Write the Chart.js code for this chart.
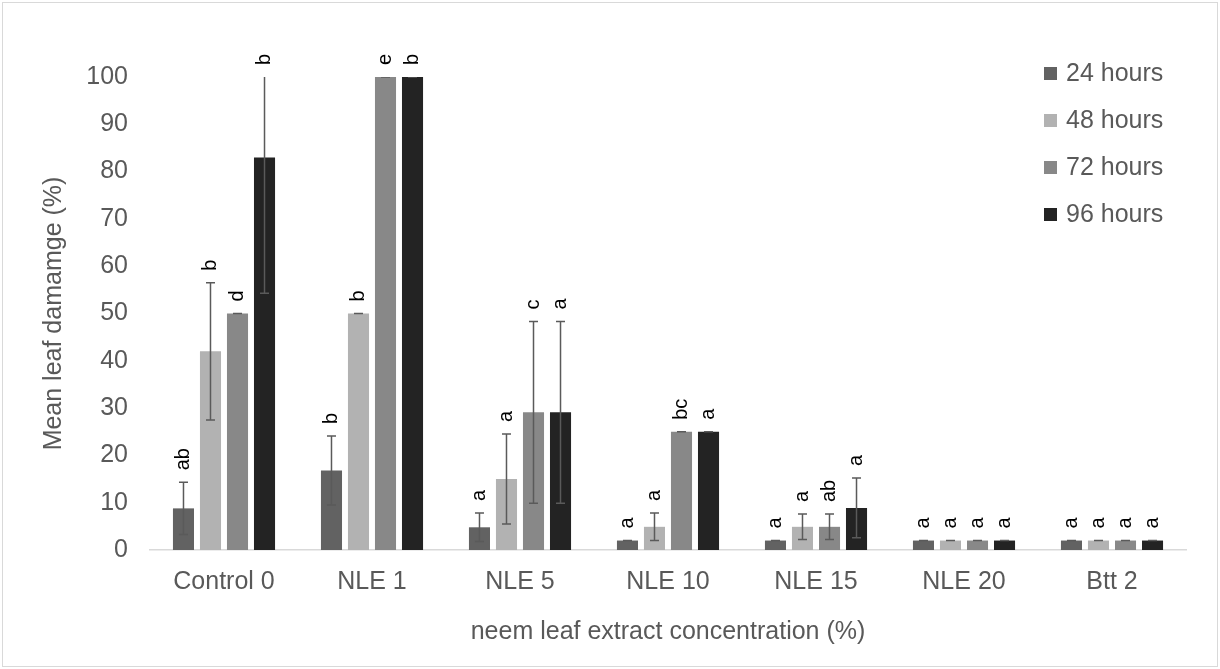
<!DOCTYPE html>
<html lang="en">
<head>
<meta charset="UTF-8">
<title>Mean leaf damage</title>
<script src="https://cdn.jsdelivr.net/npm/chart.js"></script>
<style>
  body { margin: 0; background: #fff; }
</style>
</head>
<body>
<canvas id="damageChart" width="1220" height="669"></canvas>
<script>
// categories and series
const categories = ['Control 0', 'NLE 1', 'NLE 5', 'NLE 10', 'NLE 15', 'NLE 20', 'Btt 2'];
const seriesNames = ['24 hours', '48 hours', '72 hours', '96 hours'];

// mean leaf damage (%)
const h24 = [8.8, 16.8, 4.8, 2, 2, 2, 2];
const h48 = [42, 50, 15, 4.9, 4.9, 2, 2];
const h72 = [50, 100, 29.1, 25, 4.9, 2, 2];
const h96 = [83, 100, 29.1, 25, 8.9, 2, 2];

// error bar sizes (+/-)
const err24 = [5.5, 7.3, 3, 0, 0, 0, 0];
const err48 = [14.5, 0, 9.5, 2.9, 2.7, 0, 0];
const err72 = [0, 0, 19.2, 0, 2.7, 0, 0];
const err96 = [28.7, 0, 19.2, 0, 6.3, 0, 0];

// significance letters
const let24 = ['ab', 'b', 'a', 'a', 'a', 'a', 'a'];
const let48 = ['b', 'b', 'a', 'a', 'a', 'a', 'a'];
const let72 = ['d', 'e', 'c', 'bc', 'ab', 'a', 'a'];
const let96 = ['b', 'b', 'a', 'a', 'a', 'a', 'a'];

const yTicks = [0, 10, 20, 30, 40, 50, 60, 70, 80, 90, 100];

const colors = ['#626262', '#b2b2b2', '#888888', '#232323'];
const textGrey = '#595959';
const FONT = '"Liberation Sans", Arial, sans-serif';

const values = [h24, h48, h72, h96];
const errs = [err24, err48, err72, err96];
const letters = [let24, let48, let72, let96];

// error bars + letters above each bar
const errorBarPlugin = {
    id: 'errorBars',
    afterDatasetsDraw(chart) {
        const ctx = chart.ctx;
        const y = chart.scales.y;
        const area = chart.chartArea;
        chart.data.datasets.forEach((ds, i) => {
            const meta = chart.getDatasetMeta(i);
            meta.data.forEach((bar, j) => {
                const v = ds.data[j];
                const e = ds.errs[j];
                const top = y.getPixelForValue(v + e);
                const bot = y.getPixelForValue(v - e);
                ctx.save();
                ctx.beginPath();
                ctx.rect(area.left, area.top, area.right - area.left, area.bottom - area.top);
                ctx.clip();
                ctx.strokeStyle = '#5a5a5a';
                ctx.lineWidth = 1.5;
                ctx.beginPath();
                ctx.moveTo(bar.x, top);
                ctx.lineTo(bar.x, bot);
                ctx.moveTo(bar.x - 4.5, top);
                ctx.lineTo(bar.x + 4.5, top);
                ctx.moveTo(bar.x - 4.5, bot);
                ctx.lineTo(bar.x + 4.5, bot);
                ctx.stroke();
                ctx.restore();

                // letter
                const lv = Math.min(v + e, 100);
                const ly = y.getPixelForValue(lv) - 12;
                ctx.save();
                ctx.translate(bar.x, ly);
                ctx.rotate(-Math.PI / 2);
                ctx.font = '20px ' + FONT;
                ctx.fillStyle = '#000';
                ctx.textAlign = 'left';
                ctx.textBaseline = 'middle';
                ctx.fillText(ds.letters[j], 0, 0);
                ctx.restore();
            });
        });
    }
};

// legend drawn inside the plot, top right
const legendPlugin = {
    id: 'sideLegend',
    afterDraw(chart) {
        const ctx = chart.ctx;
        ctx.save();
        chart.data.datasets.forEach((ds, i) => {
            const cy = 73.5 + i * 47;
            ctx.fillStyle = ds.backgroundColor;
            ctx.fillRect(1044, cy - 6.5, 13, 13);
            ctx.fillStyle = textGrey;
            ctx.font = '25px ' + FONT;
            ctx.textAlign = 'left';
            ctx.textBaseline = 'middle';
            ctx.fillText(ds.label, 1066, cy + 1);
        });
        ctx.restore();
    }
};

// white background and outer frame
const framePlugin = {
    id: 'frame',
    beforeDraw(chart) {
        const ctx = chart.ctx;
        ctx.save();
        ctx.fillStyle = '#fff';
        ctx.fillRect(0, 0, chart.width, chart.height);
        ctx.strokeStyle = '#d9d9d9';
        ctx.lineWidth = 1;
        ctx.strokeRect(2.5, 2.5, 1215, 664);
        ctx.restore();
    }
};

const ctx = document.getElementById('damageChart').getContext('2d');
new Chart(ctx, {
    type: 'bar',
    data: {
        labels: categories,
        datasets: seriesNames.map((name, i) => ({
            label: name,
            data: values[i],
            errs: errs[i],
            letters: letters[i],
            backgroundColor: colors[i],
            borderWidth: 0,
            categoryPercentage: 0.73,
            barPercentage: 0.78
        }))
    },
    options: {
        responsive: false,
        animation: false,
        layout: { padding: { left: 0, right: 34, top: 77, bottom: 0 } },
        plugins: {
            legend: { display: false },
            tooltip: { enabled: false }
        },
        scales: {
            x: {
                grid: { display: false, drawTicks: false },
                border: { display: true, color: '#d9d9d9', width: 1.5 },
                ticks: { color: textGrey, font: { family: FONT, size: 25 }, padding: 17 },
                title: {
                    display: true,
                    text: 'neem leaf extract concentration (%)',
                    color: textGrey,
                    font: { family: FONT, size: 25 },
                    padding: { top: 0, bottom: 22 }
                },
                afterFit(scale) { scale.height = 119; }
            },
            y: {
                min: 0,
                max: 100,
                afterBuildTicks(scale) { scale.ticks = yTicks.map(v => ({ value: v })); },
                grid: { display: false, drawTicks: false },
                border: { display: false },
                ticks: { color: textGrey, font: { family: FONT, size: 25 }, padding: 22 },
                title: {
                    display: true,
                    text: 'Mean leaf damamge (%)',
                    color: textGrey,
                    font: { family: FONT, size: 25 },
                    padding: { top: 39, bottom: 0 }
                },
                afterFit(scale) { scale.width = 150; }
            }
        }
    },
    plugins: [framePlugin, errorBarPlugin, legendPlugin]
});
</script>
</body>
</html>
